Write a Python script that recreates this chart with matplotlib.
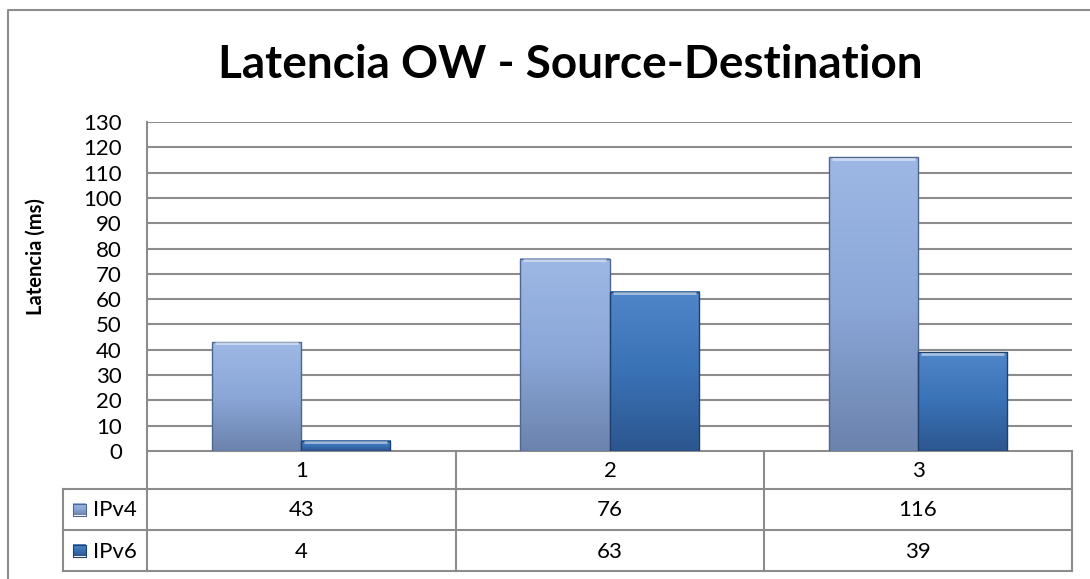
import matplotlib
matplotlib.use('Agg')
import matplotlib.pyplot as plt
import numpy as np
from matplotlib.colors import LinearSegmentedColormap

plt.rcParams['font.family'] = ['Lato', 'DejaVu Sans']

categories = ['1', '2', '3']
series = ['IPv4', 'IPv6']
ipv4 = [43, 76, 116]
ipv6 = [4, 63, 39]
yticks = list(range(0, 131, 10))

W, H = 1090, 579
fig = plt.figure(figsize=(W / 100, H / 100), dpi=100)

def fx(px):
    return px / W

def fy(py):
    return 1 - py / H

# plot area in pixel layout
pl, pt, pr, pb = 147, 122, 1072, 451
ax = fig.add_axes([fx(pl), fy(pb), fx(pr) - fx(pl), fy(pt) - fy(pb)])

grid_col = '#8c8c8c'
cmap4 = LinearSegmentedColormap.from_list('v4', ['#6b83ad', '#8ba7d8', '#9db8e4'])
cmap6 = LinearSegmentedColormap.from_list('v6', ['#2c568f', '#3a72b6', '#4f86c9'])
edge4 = '#4f6690'
edge6 = '#1f3f6c'
fs = 16

x = np.arange(len(categories))
w = 0.289
grad = np.linspace(0, 1, 100).reshape(-1, 1)

def draw_bar(xc, v, cmap, edge):
    x0, x1 = xc - w / 2, xc + w / 2
    ax.imshow(grad, extent=[x0, x1, 0, v], origin='lower', cmap=cmap,
              aspect='auto', zorder=3, interpolation='bicubic')
    ax.bar(xc, v, width=w, facecolor='none', edgecolor=edge, linewidth=1.0, zorder=4)
    # light bevel on top edge
    ax.plot([x0 + 0.01, x1 - 0.01], [v - 0.5, v - 0.5], color='white', alpha=0.5, lw=2,
            zorder=5, solid_capstyle='butt')

for i in range(len(categories)):
    draw_bar(x[i] - w / 2, ipv4[i], cmap4, edge4)
    draw_bar(x[i] + w / 2, ipv6[i], cmap6, edge6)

ax.set_xlim(-0.5, len(categories) - 0.5)
ax.set_ylim(0, 130)
ax.set_yticks(yticks)
ax.set_yticklabels([str(t) for t in yticks], fontsize=fs)
ax.set_xticks([])
ax.tick_params(axis='y', length=0, pad=18)
ax.yaxis.grid(True, color=grid_col, linewidth=1.5)
ax.set_axisbelow(True)
for s in ['top', 'right', 'bottom']:
    ax.spines[s].set_visible(False)
ax.spines['left'].set_color(grid_col)
ax.spines['left'].set_linewidth(1.5)
ax.set_ylabel('Latencia (ms)', fontsize=14.5, fontweight='bold')
ax.yaxis.set_label_coords(-(pl - 46) / (pr - pl), (pb - 257) / (pb - pt))

# overlay in pixel coordinates for frame and data table
ov = fig.add_axes([0, 0, 1, 1], zorder=-1)
ov.axis('off')

lc = '#8c8c8c'
# outer chart frame
ov.plot([8, 8, W], [H, 10, 10], color=lc, lw=1.5)

# table lines
cols = [pl, 456, 764, pr]
rows = [pb, 489, 530, 571]
key_l = 63
ov.plot([pl, pr], [pb, pb], color=lc, lw=1.5)
for r in rows[1:]:
    ov.plot([key_l, pr], [r, r], color=lc, lw=1.5)
for c in cols:
    ov.plot([c, c], [pb, rows[3]], color=lc, lw=1.5)
ov.plot([key_l, key_l], [rows[1], rows[3]], color=lc, lw=1.5)

# table text
for i, cat in enumerate(categories):
    cx = (cols[i] + cols[i + 1]) / 2
    ov.text(cx, (rows[0] + rows[1]) / 2 + 1, cat, ha='center', va='center', fontsize=fs)
    ov.text(cx, (rows[1] + rows[2]) / 2 + 1, str(ipv4[i]), ha='center', va='center', fontsize=fs)
    ov.text(cx, (rows[2] + rows[3]) / 2 + 1, str(ipv6[i]), ha='center', va='center', fontsize=fs)

# legend keys in table
keys = [(cmap4, edge4), (cmap6, edge6)]
for j, name in enumerate(series):
    cy = (rows[j + 1] + rows[j + 2]) / 2
    cm, ec = keys[j]
    ov.imshow(grad[::-1], extent=[73, 86, cy + 6, cy - 6], cmap=cm, aspect='auto', zorder=3)
    ov.add_patch(plt.Rectangle((73, cy - 6), 13, 12, fill=False, edgecolor=ec, lw=0.8, zorder=4))
    ov.text(93, cy + 1, name, ha='left', va='center', fontsize=fs)
ov.set_xlim(0, W)
ov.set_ylim(H, 0)

fig.text(fx(570), fy(65), 'Latencia OW - Source-Destination', ha='center', va='center',
         fontsize=33, fontweight='bold')

fig.savefig('out.png', dpi=100, facecolor='white')
